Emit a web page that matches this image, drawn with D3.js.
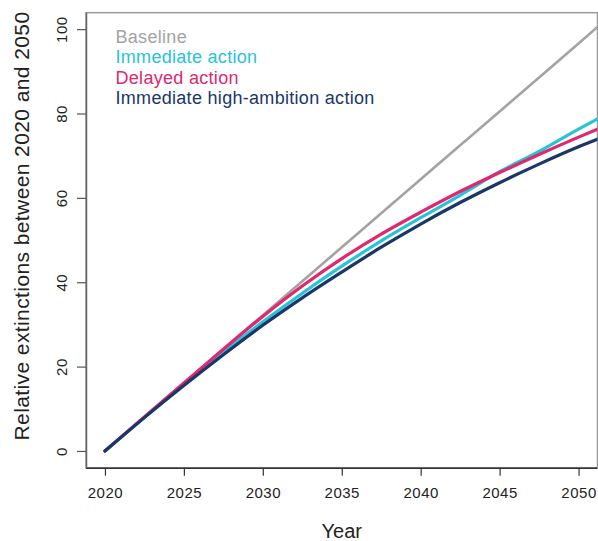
<!DOCTYPE html>
<html>
<head>
<meta charset="utf-8">
<script src="https://cdn.jsdelivr.net/npm/d3@7"></script>
<style>
  html, body { margin: 0; padding: 0; background: #fff; }
  svg { display: block; font-family: "Liberation Sans", Arial, sans-serif; }
</style>
</head>
<body>
<svg id="chart" width="598" height="541"></svg>
<script>
// Projected relative extinctions (2020 = 0) under four scenarios
const years        = [2020, 2022.5, 2025, 2027.5, 2030, 2032.5, 2035, 2037.5, 2040, 2042.5, 2045, 2047.5, 2050, 2051.2];
const baseline     = [0, 8.05, 16.1, 24.15, 32.2, 40.25, 48.3, 56.35, 64.4, 72.45, 80.5, 88.55, 96.6, 100.5];
const immediate    = [0, 8.0, 15.9, 23.4, 30.6, 37.4, 43.8, 49.8, 55.3, 60.6, 66.2, 71.0, 76.3, 78.7];
const delayed      = [0, 8.05, 16.1, 24.1, 31.9, 39.1, 45.6, 51.4, 56.6, 61.5, 66.0, 70.3, 74.4, 76.3];
const highAmbition = [0, 7.9, 15.5, 22.8, 29.8, 36.3, 42.4, 48.3, 53.8, 58.9, 63.6, 68.0, 72.1, 73.9];

const seriesNames  = ["Baseline", "Immediate action", "Delayed action", "Immediate high-ambition action"];
const seriesValues = [baseline, immediate, delayed, highAmbition];
const seriesColors = ["#a3a3a3", "#27c3d8", "#e0276f", "#1a3768"];

const xTicks = [2020, 2025, 2030, 2035, 2040, 2045, 2050];
const yTicks = [0, 20, 40, 60, 80, 100];

const svg = d3.select("#chart");
const plot = { left: 86, right: 597.5, top: 12.7, bottom: 467.7 };

const x = d3.scaleLinear().domain([2018.8, 2051.2]).range([plot.left, plot.right]);
const y = d3.scaleLinear().domain([-3.97, 103.9]).range([plot.bottom, plot.top]);

svg.append("defs").append("clipPath").attr("id", "plotClip")
  .append("rect")
  .attr("x", plot.left).attr("y", plot.top)
  .attr("width", plot.right - plot.left).attr("height", plot.bottom - plot.top);

// Frame around the plotting region
svg.append("rect")
  .attr("x", plot.left).attr("y", plot.top)
  .attr("width", plot.right - plot.left).attr("height", plot.bottom - plot.top)
  .attr("fill", "none").attr("stroke", "#9a9a9a").attr("stroke-width", 1.5);

// X axis
const xAxis = svg.append("g")
  .attr("transform", `translate(0,${plot.bottom})`)
  .call(d3.axisBottom(x).tickValues(xTicks).tickFormat(d3.format("d")).tickSize(8).tickPadding(12));
xAxis.select(".domain").attr("d", `M${plot.left},0.5H${plot.right}`).attr("stroke", "#333").attr("stroke-width", 1.5);
xAxis.selectAll(".tick line").attr("stroke", "#333").attr("stroke-width", 1.2);
xAxis.selectAll(".tick text").attr("font-size", 15).attr("fill", "#222")
  .attr("letter-spacing", 0.5)
  .attr("font-family", "'Liberation Sans', Arial, sans-serif");

// Y axis with rotated tick labels
const yAxis = svg.append("g")
  .attr("transform", `translate(${plot.left},0)`)
  .call(d3.axisLeft(y).tickValues(yTicks).tickSize(9).tickPadding(0));
yAxis.select(".domain").attr("d", `M0.5,${plot.top}V${plot.bottom}`).attr("stroke", "#666").attr("stroke-width", 1.5);
yAxis.selectAll(".tick line").attr("stroke", "#555").attr("stroke-width", 1.2);
yAxis.selectAll(".tick text")
  .attr("font-size", 15).attr("fill", "#222")
  .attr("letter-spacing", 0.5)
  .attr("font-family", "'Liberation Sans', Arial, sans-serif")
  .attr("text-anchor", "middle")
  .attr("x", null).attr("dy", null)
  .attr("transform", "translate(-19,0) rotate(-90)")
  .attr("y", 0);

// Axis titles
svg.append("text")
  .attr("x", x(2035)).attr("y", 538)
  .attr("text-anchor", "middle").attr("font-size", 20).attr("fill", "#222")
  .text("Year");

svg.append("text")
  .attr("transform", "translate(29,226) rotate(-90)")
  .attr("text-anchor", "middle").attr("font-size", 21).attr("letter-spacing", 0.4).attr("fill", "#222")
  .text("Relative extinctions between 2020 and 2050");

// Scenario curves
const line = d3.line()
  .x((d, i) => x(years[i]))
  .y(d => y(d))
  .curve(d3.curveMonotoneX);

const lines = svg.append("g").attr("clip-path", "url(#plotClip)");
seriesValues.forEach((vals, k) => {
  lines.append("path")
    .attr("d", line(vals))
    .attr("fill", "none")
    .attr("stroke", seriesColors[k])
    .attr("stroke-width", k === 0 ? 2.6 : 3.2)
    .attr("stroke-linecap", "round");
});

// Legend
const legendBaselines = [42.5, 63, 83.5, 104];
seriesNames.forEach((name, k) => {
  svg.append("text")
    .attr("x", 115.5).attr("y", legendBaselines[k])
    .attr("font-size", 18).attr("letter-spacing", 0.3).attr("fill", seriesColors[k])
    .text(name);
});
</script>
</body>
</html>
